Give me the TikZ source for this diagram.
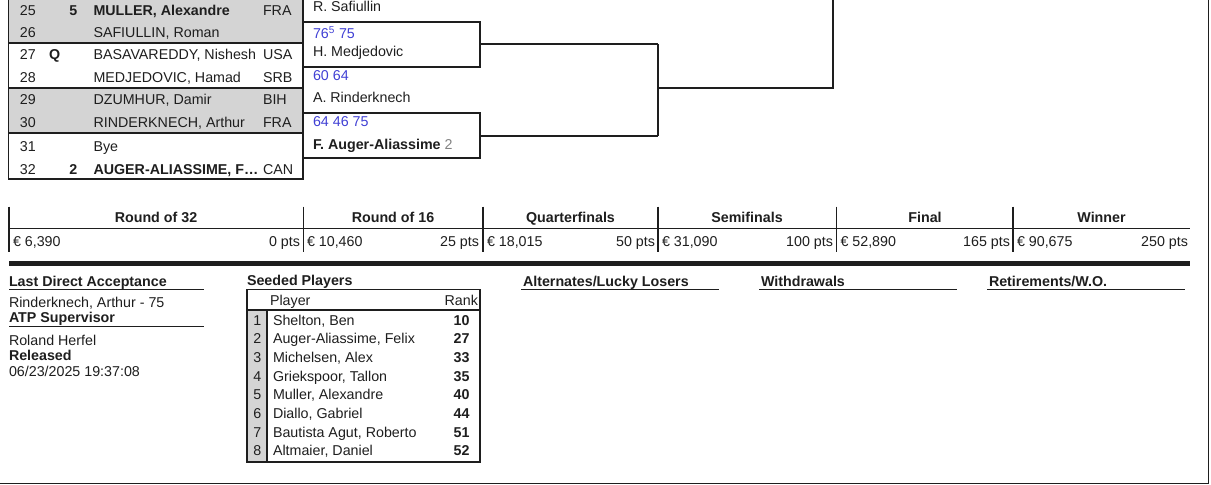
\documentclass[tikz,border=0pt]{standalone}
\usepackage{fontspec}
\setmainfont{Liberation Sans}
\definecolor{bandgray}{RGB}{212,212,212}
\definecolor{scoreblue}{RGB}{64,64,212}
\definecolor{ink}{RGB}{30,30,30}
\definecolor{seedgray}{RGB}{130,130,130}
\newcommand\fsz{\fontsize{10.7pt}{12.5pt}\selectfont}
\begin{document}
\begin{tikzpicture}[x=0.75pt,y=-0.75pt,
  every node/.style={inner sep=0pt, outer sep=0pt, font=\fsz, text=ink},
  lt/.style={anchor=base west},
  rt/.style={anchor=base east},
  ct/.style={anchor=base},
  bf/.style={font=\fsz\bfseries},
  sc/.style={text=scoreblue},
  ln/.style={line width=1.4pt, draw=ink},
  thin/.style={line width=1.1pt, draw=ink}]
\useasboundingbox (0,0) rectangle (1211,485);

% ---------- draw table (rows 25-32)
\fill[bandgray] (8.5,0) rectangle (303,43.3);
\fill[bandgray] (8.5,87.7) rectangle (303,132.7);
\draw[ln] (8.5,0) -- (8.5,179.3) -- (303,179.3) -- (303,0);
\draw[ln] (8.5,43.3) -- (303,43.3);
\draw[ln] (8.5,87.7) -- (303,87.7);
\draw[ln] (8.5,132.7) -- (303,132.7);

\node[lt] (n25) at (20,15.7) {25};
\node[rt,bf] (s25) at (77.3,15.7) {5};
\node[lt,bf] (p25) at (93.5,15.7) {MULLER, Alexandre};
\node[lt] (c25) at (263,15.7) {FRA};

\node[lt] (n26) at (20,37.5) {26};
\node[lt] (p26) at (93.5,37.5) {SAFIULLIN, Roman};

\node[lt] (n27) at (20,60) {27};
\node[lt,bf] (q27) at (49,60) {Q};
\node[lt] (p27) at (93.5,60) {BASAVAREDDY, Nishesh};
\node[lt] (c27) at (263,60) {USA};

\node[lt] (n28) at (20,82.3) {28};
\node[lt] (p28) at (93.5,82.3) {MEDJEDOVIC, Hamad};
\node[lt] (c28) at (263,82.3) {SRB};

\node[lt] (n29) at (20,105) {29};
\node[lt] (p29) at (93.5,105) {DZUMHUR, Damir};
\node[lt] (c29) at (263,105) {BIH};

\node[lt] (n30) at (20,127.7) {30};
\node[lt] (p30) at (93.5,127.7) {RINDERKNECH, Arthur};
\node[lt] (c30) at (263,127.7) {FRA};

\node[lt] (n31) at (20,151.7) {31};
\node[lt] (p31) at (93.5,151.7) {Bye};

\node[lt] (n32) at (20,174.3) {32};
\node[rt,bf] (s32) at (77.3,174.3) {2};
\node[lt,bf] (p32) at (93.5,174.3) {AUGER-ALIASSIME, F…};
\node[lt] (c32) at (263,174.3) {CAN};

% ---------- bracket
\draw[ln] (303,21.7) -- (480,21.7) -- (480,66.7) -- (303,66.7);
\draw[ln] (303,113.3) -- (480,113.3) -- (480,158.3) -- (303,158.3);
\draw[ln] (480,44.2) -- (658,44.2);
\draw[ln] (480,135.8) -- (658,135.8);
\draw[ln] (658,44.2) -- (658,135.8);
\draw[ln] (658,88) -- (833.3,88) -- (833.3,0);

\node[lt] (w1) at (313,11.5) {R. Safiullin};
\node[lt,sc] (r1) at (313,39) {76\textsuperscript{5} 75};
\node[lt] (w2) at (313,56.5) {H. Medjedovic};
\node[lt,sc] (r2) at (313,81) {60 64};
\node[lt] (w3) at (313,102.5) {A. Rinderknech};
\node[lt,sc] (r3) at (313,126.5) {64 46 75};
\node[lt] (w4) at (313,149) {\textbf{F. Auger-Aliassime} \textcolor{seedgray}{2}};

% ---------- prize money
\foreach \xx in {9,303.3,483,658,836.5,1013}
  \draw[thin] (\xx,206.7) -- (\xx,251.7);
\draw[thin] (9,228.3) -- (1190,228.3);
\fill[ink] (9,261) rectangle (1190,265.7);

\node[ct,bf] (h1) at (156,222.7) {Round of 32};
\node[ct,bf] (h2) at (393,222.7) {Round of 16};
\node[ct,bf] (h3) at (570.5,222.7) {Quarterfinals};
\node[ct,bf] (h4) at (747,222.7) {Semifinals};
\node[ct,bf] (h5) at (925,222.7) {Final};
\node[ct,bf] (h6) at (1101.5,222.7) {Winner};

\node[lt] (m1) at (13,246.7) {€ 6,390};
\node[rt] (pt1) at (300,246.7) {0 pts};
\node[lt] (m2) at (307,246.7) {€ 10,460};
\node[rt] (pt2) at (479,246.7) {25 pts};
\node[lt] (m3) at (487,246.7) {€ 18,015};
\node[rt] (pt3) at (655,246.7) {50 pts};
\node[lt] (m4) at (662,246.7) {€ 31,090};
\node[rt] (pt4) at (833,246.7) {100 pts};
\node[lt] (m5) at (840.5,246.7) {€ 52,890};
\node[rt] (pt5) at (1010,246.7) {165 pts};
\node[lt] (m6) at (1017,246.7) {€ 90,675};
\node[rt] (pt6) at (1188,246.7) {250 pts};

% ---------- bottom section
\node[lt,bf] (lda) at (9,286) {Last Direct Acceptance};
\draw[ln] (9,289.5) -- (204,289.5);
\node[lt] (ldav) at (9,307.3) {Rinderknech, Arthur - 75};
\node[lt,bf] (sup) at (9,322.7) {ATP Supervisor};
\draw[ln] (9,326.5) -- (204,326.5);
\node[lt] (supv) at (9,345) {Roland Herfel};
\node[lt,bf] (rel) at (9,360.7) {Released};
\node[lt] (relv) at (9,376.7) {06/23/2025 19:37:08};

\node[lt,bf] (alt) at (523,286) {Alternates/Lucky Losers};
\draw[ln] (521,289.5) -- (719,289.5);
\node[lt,bf] (wd) at (761,286) {Withdrawals};
\draw[ln] (759,289.5) -- (957,289.5);
\node[lt,bf] (ret) at (989,286) {Retirements/W.O.};
\draw[ln] (987,289.5) -- (1185,289.5);

% seeded players
\node[lt,bf] (sp) at (247,285) {Seeded Players};
\fill[bandgray] (247,310) rectangle (267.3,461.7);
\draw[ln] (247,289.5) rectangle (480,461.7);
\draw[ln] (247,310) -- (480,310);
\draw[ln] (267.3,310) -- (267.3,461.7);
\node[lt] (ph) at (270,305) {Player};
\node[rt] (rh) at (478,305) {Rank};
\foreach \i/\nm/\rk in {1/{Shelton, Ben}/10, 2/{Auger-Aliassime, Felix}/27,
  3/{Michelsen, Alex}/33, 4/{Griekspoor, Tallon}/35, 5/{Muller, Alexandre}/40,
  6/{Diallo, Gabriel}/44, 7/{Bautista Agut, Roberto}/51, 8/{Altmaier, Daniel}/52}{
  \node[ct] (si\i) at (257.3,{325+(\i-1)*18.67}) {\i};
  \node[lt] (sn\i) at (273,{325+(\i-1)*18.67}) {\nm};
  \node[rt,bf] (sr\i) at (469.5,{325+(\i-1)*18.67}) {\rk};
}

% page frame
\draw[line width=0.9pt, draw=ink] (0,483.3) -- (1208.3,483.3) -- (1208.3,0);
\end{tikzpicture}
\end{document}
